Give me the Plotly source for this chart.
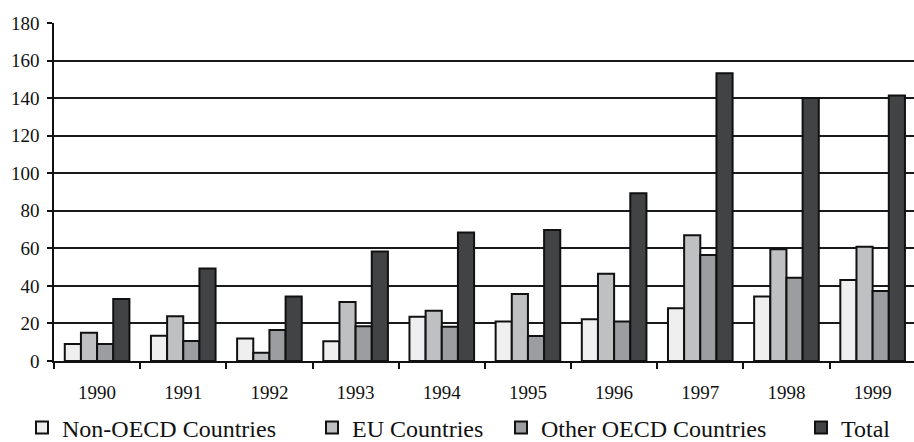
import plotly.graph_objects as go

years = ["1990", "1991", "1992", "1993", "1994", "1995", "1996", "1997", "1998", "1999"]
non_oecd = [9, 13.5, 12, 10.5, 23.6, 21, 22.2, 28.1, 34.3, 43.2]
eu = [15, 23.8, 4.4, 31.4, 26.8, 35.7, 46.4, 67, 59.5, 60.9]
other_oecd = [9, 10.7, 16.5, 18.5, 18.3, 13.3, 21, 56.5, 44.4, 37.3]
total = [33, 49.2, 34.3, 58.3, 68.4, 69.8, 89.4, 153.3, 140, 141.4]

series_names = ["Non-OECD Countries", "EU Countries", "Other OECD Countries", "Total"]
series_values = [non_oecd, eu, other_oecd, total]
colors = ["#efefef", "#bfc0c2", "#9c9da1", "#424345"]
legend_ids = ["legend", "legend2", "legend3", "legend4"]
legend_x = [22, 312, 501, 801]

FONT = "Liberation Serif, Times New Roman, serif"

fig = go.Figure()
for name, vals, col, lid in zip(series_names, series_values, colors, legend_ids):
    fig.add_trace(go.Bar(
        x=years, y=vals, name=name, legend=lid,
        marker=dict(color=col, line=dict(color="#111111", width=2)),
    ))

legends = {}
for lid, lx in zip(legend_ids, legend_x):
    legends[lid] = dict(
        x=lx / 914, xref="container", xanchor="left",
        y=1 - 428 / 442, yref="container", yanchor="middle",
        orientation="h", bgcolor="rgba(0,0,0,0)", borderwidth=0,
        font=dict(family=FONT, size=24, color="#111111"),
        itemclick=False,
    )

fig.update_layout(
    width=914, height=442,
    margin=dict(l=54, r=0, t=23, b=81, pad=0, autoexpand=False),
    paper_bgcolor="white", plot_bgcolor="white",
    barmode="group", bargap=0.25, bargroupgap=0,
    font=dict(family=FONT, size=19, color="#111111"),
    showlegend=True,
    **legends,
)

fig.update_xaxes(
    type="category", range=[-0.5, 9.48], automargin=False,
    showline=True, linecolor="#111111", linewidth=1.5,
    ticks="outside", tickson="boundaries", ticklen=6, tickwidth=1.5, tickcolor="#111111",
    ticklabelstandoff=13,
    showgrid=False, zeroline=False,
    tickfont=dict(family=FONT, size=19, color="#111111"),
)
fig.update_yaxes(
    range=[0, 180], dtick=20, tick0=0, automargin=False,
    showline=True, linecolor="#111111", linewidth=1.5,
    ticks="outside", ticklen=5, tickwidth=1.5, tickcolor="#111111",
    ticklabelstandoff=4,
    showgrid=True, gridcolor="#1a1a1a", gridwidth=1.5,
    zeroline=False,
    tickfont=dict(family=FONT, size=19, color="#111111"),
)

fig.write_html(
    "out.html",
    config={"displayModeBar": False},
    post_script="document.body.style.margin='0';document.body.style.overflow='hidden';",
)
